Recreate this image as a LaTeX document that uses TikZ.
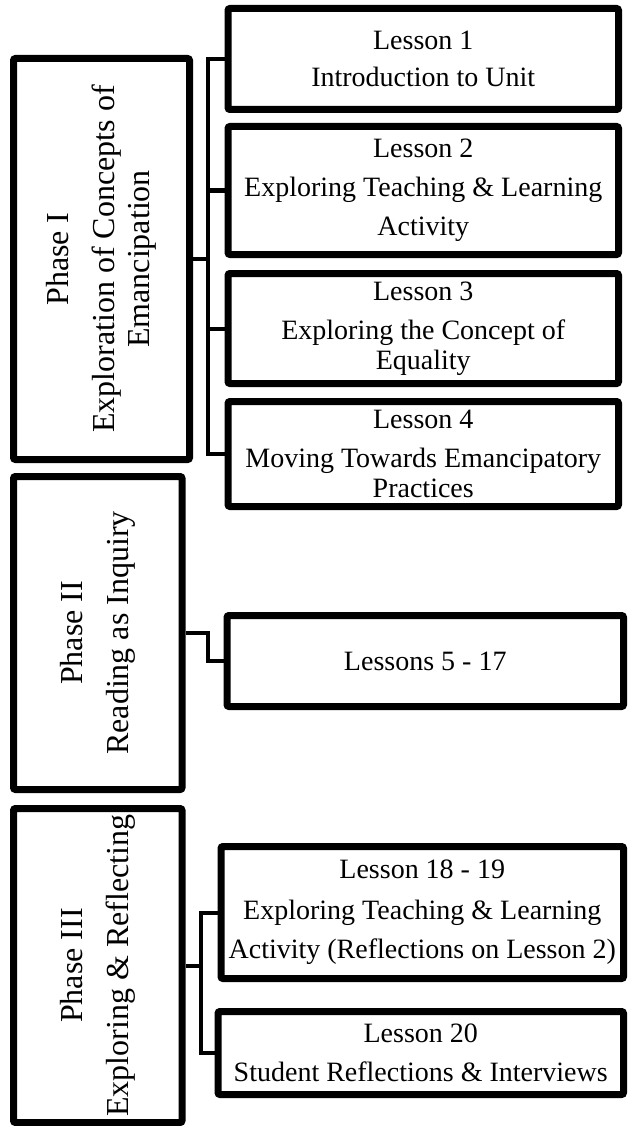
\documentclass[tikz,border=0pt]{standalone}
\usepackage{fontspec}
\setmainfont{Liberation Serif}
\usetikzlibrary{shadows}
\newcommand{\lf}{\fontsize{28}{39}\selectfont}
\newcommand{\pf}{\fontsize{32}{46}\selectfont}

\begin{document}
\begin{tikzpicture}[x=1pt,y=-1pt,
   box/.style={draw=black,fill=white,line width=7pt,rounded corners=2pt,inner sep=0pt,
      align=center,font=\lf,
      drop shadow={shadow xshift=2pt,shadow yshift=-3pt,opacity=.3}},
   phasetext/.style={rotate=90,align=center,font=\pf},
   link/.style={line width=4pt}]
   \useasboundingbox (0,0) rectangle (627,1126);

   \node[box,minimum width=176pt,minimum height=401pt] (ph1) at (101.5,259) {};
   \node[box,minimum width=168.5pt,minimum height=313pt] (ph2) at (97.75,633) {};
   \node[box,minimum width=168.5pt,minimum height=314pt] (ph3) at (97.75,965.5) {};
   \node[phasetext] (t1) at (ph1) {Phase I\\Exploration of Concepts of\\[-11pt]Emancipation};
   \node[phasetext] (t2) at (ph2) {Phase II\\Reading as Inquiry};
   \node[phasetext] (t3) at (ph3) {Phase III\\Exploring \& Reflecting};

   \node[box,minimum width=390.5pt,minimum height=101pt] (l1) at (423.25,59)
      {Lesson 1\\[-2pt]Introduction to Unit};
   \node[box,minimum width=390.5pt,minimum height=128pt] (l2) at (423.25,190.5)
      {Lesson 2\\Exploring Teaching \& Learning\\Activity};
   \node[box,minimum width=390.5pt,minimum height=110pt] (l3) at (423.25,328.5)
      {Lesson 3\\Exploring the Concept of\\[-9pt]Equality};
   \node[box,minimum width=390.5pt,minimum height=105pt] (l4) at (423.25,454)
      {Lesson 4\\Moving Towards Emancipatory\\[-9pt]Practices};
   \node[box,minimum width=396.5pt,minimum height=91pt] (l5) at (425.25,661)
      {Lessons 5 - 17};
   \node[box,minimum width=402.5pt,minimum height=132pt] (l18) at (422.25,912.5)
      {Lesson 18 - 19\\[2pt]Exploring Teaching \& Learning\\Activity (Reflections on Lesson 2)};
   \node[box,minimum width=405.5pt,minimum height=83pt] (l20) at (420.75,1053)
      {Lesson 20\\Student Reflections \& Interviews};

   \coordinate (b1) at (208,259);
   \draw[link] (ph1.east) -- (b1);
   \foreach \n in {l1,l2,l3,l4}
      \draw[link] (b1) |- (\n.west);

   \draw[link] (ph2.east) -- ++(22,0) |- (l5.west);

   \coordinate (b3) at (201,965.5);
   \draw[link] (ph3.east) -- (b3);
   \foreach \n in {l18,l20}
      \draw[link] (b3) |- (\n.west);
\end{tikzpicture}
\end{document}
